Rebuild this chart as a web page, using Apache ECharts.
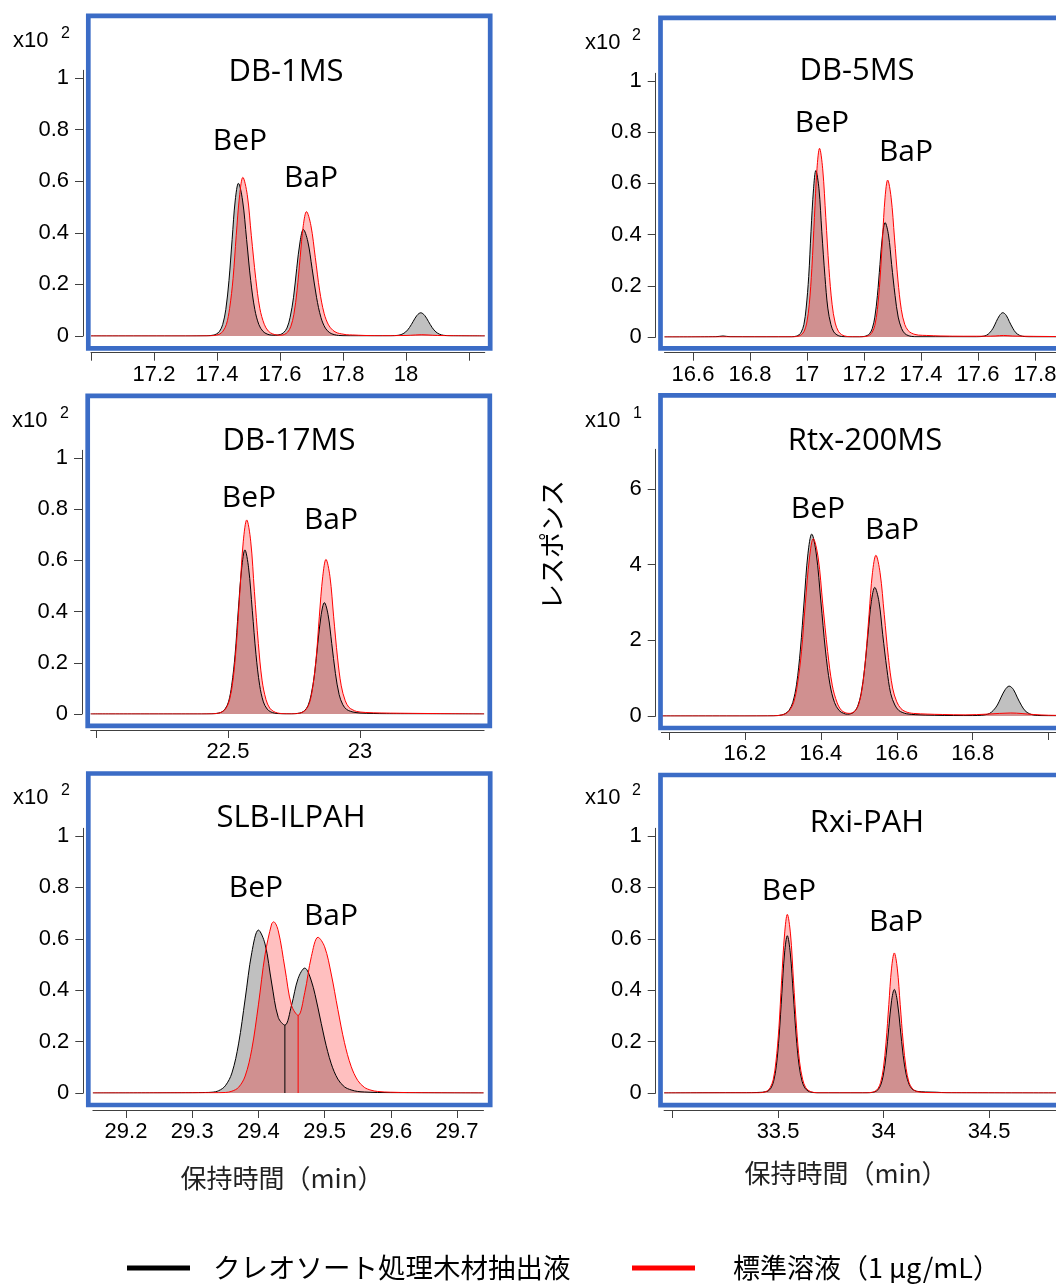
<!DOCTYPE html>
<html><head><meta charset="utf-8">
<script src="https://cdn.jsdelivr.net/npm/echarts@6/dist/echarts.min.js"></script>
<style>html,body{margin:0;padding:0;background:#fff}#c{width:1056px;height:1287px}</style>
</head><body><div id="c"></div>
<script>
// ---------- data (retention time [min], response) ----------
const p1Black = [[17.00,0],[17.30,0],[17.368,0.0005],[17.378,0.0014],[17.388,0.0033],[17.398,0.0076],[17.408,0.018],[17.418,0.044],[17.428,0.103],[17.438,0.215],[17.448,0.374],[17.458,0.527],[17.468,0.592],[17.481,0.527],[17.494,0.374],[17.507,0.215],[17.520,0.103],[17.533,0.044],[17.546,0.018],[17.559,0.0076],[17.572,0.0036],[17.585,0.003],[17.601,0.0058],[17.611,0.0126],[17.622,0.0306],[17.632,0.0719],[17.643,0.150],[17.653,0.261],[17.664,0.368],[17.674,0.413],[17.688,0.368],[17.702,0.261],[17.716,0.150],[17.730,0.0719],[17.744,0.0306],[17.758,0.0126],[17.772,0.0053],[17.786,0.0023],[17.800,0.001],[17.85,0.0005],[17.951,0.0005],[17.963,0.0012],[17.975,0.0027],[17.987,0.0067],[17.999,0.0157],[18.011,0.0327],[18.023,0.0569],[18.035,0.0802],[18.047,0.090],[18.059,0.0802],[18.071,0.0569],[18.083,0.0327],[18.095,0.0157],[18.107,0.0067],[18.119,0.0027],[18.131,0.0012],[18.143,0.0005],[18.25,0]];
const p1Red = [[17.00,0],[17.30,0],[17.377,0.0005],[17.388,0.0014],[17.398,0.0034],[17.409,0.0079],[17.419,0.0188],[17.430,0.0455],[17.440,0.107],[17.451,0.223],[17.461,0.389],[17.472,0.548],[17.482,0.615],[17.496,0.548],[17.509,0.389],[17.523,0.223],[17.536,0.107],[17.550,0.0455],[17.563,0.0188],[17.577,0.0079],[17.590,0.0042],[17.604,0.0032],[17.614,0.0062],[17.624,0.0147],[17.634,0.0357],[17.644,0.0839],[17.654,0.175],[17.664,0.305],[17.674,0.429],[17.684,0.482],[17.698,0.429],[17.712,0.305],[17.726,0.175],[17.740,0.088],[17.754,0.043],[17.768,0.022],[17.782,0.012],[17.796,0.008],[17.810,0.005],[17.83,0.004],[17.87,0.002],[17.92,0.001],[18.00,0.002],[18.03,0.004],[18.05,0.005],[18.07,0.004],[18.10,0.002],[18.15,0.001],[18.25,0]];

const p2Black = [[16.50,0],[16.68,0.001],[16.705,0.004],[16.73,0.001],[16.90,0.0005],[16.946,0.0005],[16.955,0.0015],[16.963,0.0036],[16.972,0.0084],[16.980,0.0198],[16.989,0.0481],[16.997,0.113],[17.006,0.236],[17.014,0.411],[17.023,0.579],[17.031,0.650],[17.042,0.579],[17.052,0.411],[17.063,0.236],[17.073,0.113],[17.084,0.0481],[17.094,0.0198],[17.105,0.0084],[17.115,0.0036],[17.126,0.0015],[17.136,0.0005],[17.184,0.0004],[17.193,0.0010],[17.202,0.0025],[17.211,0.0058],[17.220,0.0136],[17.229,0.0331],[17.238,0.0778],[17.247,0.162],[17.256,0.283],[17.265,0.398],[17.274,0.447],[17.286,0.398],[17.297,0.283],[17.309,0.162],[17.320,0.0778],[17.332,0.0331],[17.343,0.0136],[17.355,0.0058],[17.366,0.0025],[17.378,0.0010],[17.40,0.0008],[17.50,0.0008],[17.595,0.0005],[17.607,0.0012],[17.618,0.0029],[17.630,0.007],[17.641,0.0165],[17.653,0.0345],[17.664,0.060],[17.676,0.0846],[17.687,0.095],[17.699,0.0846],[17.710,0.060],[17.722,0.0345],[17.733,0.0165],[17.745,0.007],[17.756,0.0029],[17.768,0.0012],[17.779,0.0005],[18.00,0]];
const p2Red = [[16.50,0],[16.90,0.0005],[16.954,0.0006],[16.963,0.0017],[16.972,0.0041],[16.981,0.0095],[16.990,0.0225],[16.999,0.0545],[17.008,0.128],[17.017,0.268],[17.026,0.466],[17.035,0.657],[17.044,0.737],[17.055,0.657],[17.066,0.466],[17.077,0.268],[17.088,0.128],[17.099,0.0545],[17.110,0.0225],[17.121,0.0095],[17.132,0.0041],[17.143,0.0017],[17.154,0.0006],[17.193,0.0005],[17.202,0.0014],[17.211,0.0034],[17.220,0.0079],[17.229,0.0187],[17.238,0.0454],[17.247,0.107],[17.256,0.223],[17.265,0.387],[17.274,0.546],[17.283,0.613],[17.295,0.546],[17.307,0.387],[17.319,0.223],[17.331,0.107],[17.343,0.049],[17.355,0.025],[17.367,0.015],[17.379,0.010],[17.391,0.0074],[17.42,0.006],[17.47,0.004],[17.55,0.003],[17.63,0.003],[17.66,0.004],[17.69,0.006],[17.72,0.004],[17.76,0.003],[17.85,0.002],[18.00,0.001]];

const p3Black = [[21.98,0],[22.40,0],[22.439,0.0005],[22.452,0.0015],[22.464,0.0036],[22.477,0.0083],[22.489,0.0196],[22.502,0.0474],[22.514,0.112],[22.527,0.233],[22.539,0.405],[22.552,0.571],[22.564,0.641],[22.578,0.571],[22.592,0.405],[22.606,0.233],[22.620,0.112],[22.634,0.0474],[22.648,0.0196],[22.662,0.0083],[22.676,0.0036],[22.690,0.0015],[22.704,0.0005],[22.740,0.0003],[22.753,0.0010],[22.765,0.0024],[22.778,0.0056],[22.790,0.0133],[22.803,0.0322],[22.815,0.0757],[22.828,0.158],[22.840,0.275],[22.853,0.388],[22.865,0.435],[22.879,0.388],[22.893,0.275],[22.907,0.158],[22.921,0.0757],[22.935,0.036],[22.949,0.018],[22.963,0.011],[22.977,0.007],[23.00,0.004],[23.05,0.002],[23.10,0.001],[23.47,0]];
const p3Red = [[21.98,0],[22.40,0],[22.441,0.0006],[22.454,0.0017],[22.467,0.0042],[22.480,0.0098],[22.493,0.0231],[22.506,0.0561],[22.519,0.132],[22.532,0.275],[22.545,0.479],[22.558,0.675],[22.571,0.758],[22.586,0.675],[22.600,0.479],[22.615,0.275],[22.629,0.132],[22.644,0.0561],[22.658,0.0231],[22.673,0.0098],[22.687,0.0042],[22.702,0.0017],[22.716,0.0006],[22.746,0.0005],[22.759,0.0014],[22.771,0.0034],[22.784,0.0078],[22.796,0.0184],[22.809,0.0447],[22.821,0.105],[22.834,0.219],[22.846,0.382],[22.859,0.538],[22.871,0.604],[22.886,0.538],[22.900,0.382],[22.915,0.219],[22.929,0.110],[22.944,0.052],[22.958,0.026],[22.973,0.016],[22.987,0.010],[23.02,0.006],[23.08,0.004],[23.15,0.003],[23.25,0.002],[23.35,0.001],[23.47,0]];

const p4Black = [[15.98,0],[16.20,0],[16.26,0.002],[16.276,0.004],[16.286,0.011],[16.296,0.027],[16.306,0.062],[16.316,0.147],[16.326,0.356],[16.336,0.837],[16.346,1.746],[16.356,3.040],[16.366,4.286],[16.376,4.81],[16.388,4.286],[16.400,3.040],[16.412,1.746],[16.424,0.837],[16.436,0.356],[16.448,0.147],[16.460,0.069],[16.470,0.048],[16.479,0.061],[16.488,0.112],[16.497,0.256],[16.506,0.592],[16.515,1.234],[16.524,2.149],[16.533,3.029],[16.542,3.40],[16.553,3.029],[16.563,2.149],[16.574,1.234],[16.584,0.592],[16.595,0.29],[16.605,0.149],[16.616,0.089],[16.626,0.059],[16.65,0.035],[16.70,0.02],[16.75,0.012],[16.80,0.011],[16.812,0.014],[16.823,0.020],[16.833,0.033],[16.844,0.066],[16.854,0.144],[16.865,0.290],[16.875,0.500],[16.886,0.704],[16.896,0.79],[16.907,0.704],[16.917,0.499],[16.928,0.287],[16.938,0.138],[16.949,0.062],[16.959,0.030],[16.970,0.016],[16.98,0.010],[17.02,0.005],[17.10,0.003]];
const p4Red = [[15.98,0],[16.20,0],[16.26,0.002],[16.275,0.004],[16.286,0.011],[16.296,0.026],[16.307,0.061],[16.317,0.143],[16.328,0.347],[16.338,0.816],[16.349,1.702],[16.359,2.964],[16.370,4.179],[16.380,4.69],[16.393,4.179],[16.405,2.964],[16.418,1.702],[16.430,0.816],[16.443,0.347],[16.455,0.143],[16.468,0.077],[16.475,0.070],[16.482,0.08],[16.491,0.142],[16.500,0.32],[16.509,0.740],[16.518,1.543],[16.527,2.686],[16.536,3.787],[16.545,4.25],[16.556,3.787],[16.567,2.686],[16.578,1.543],[16.589,0.740],[16.600,0.375],[16.611,0.195],[16.622,0.12],[16.633,0.084],[16.644,0.068],[16.68,0.05],[16.72,0.04],[16.78,0.03],[16.84,0.05],[16.90,0.08],[16.96,0.04],[17.00,0.02],[17.10,0.01]];

const p5Black = [[29.15,0],[29.30,0.001],[29.32,0.002],[29.33,0.003],[29.34,0.009],[29.35,0.028],[29.36,0.078],[29.37,0.191],[29.38,0.366],[29.39,0.546],[29.40,0.634],[29.41,0.580],[29.42,0.428],[29.43,0.294],[29.44,0.264],[29.45,0.341],[29.46,0.446],[29.47,0.486],[29.48,0.436],[29.49,0.331],[29.50,0.210],[29.51,0.114],[29.52,0.054],[29.53,0.024],[29.54,0.012],[29.55,0.006],[29.56,0.004],[29.58,0.002],[29.62,0.001],[29.74,0]];
const p5Red = [[29.15,0],[29.33,0.001],[29.35,0.002],[29.36,0.007],[29.37,0.022],[29.38,0.066],[29.39,0.170],[29.40,0.343],[29.41,0.538],[29.42,0.658],[29.423,0.666],[29.43,0.631],[29.44,0.486],[29.45,0.341],[29.46,0.302],[29.47,0.391],[29.48,0.531],[29.49,0.606],[29.50,0.569],[29.51,0.463],[29.52,0.325],[29.53,0.196],[29.54,0.104],[29.55,0.049],[29.56,0.022],[29.57,0.011],[29.58,0.006],[29.60,0.003],[29.65,0.001],[29.74,0]];
const p5BlackDrop = [[29.44,0],[29.44,0.264]];
const p5RedDrop = [[29.46,0],[29.46,0.302]];

const p6Black = [[32.96,0],[33.30,0.001],[33.35,0.001],[33.40,0.002],[33.427,0.003],[33.440,0.005],[33.453,0.0079],[33.466,0.0187],[33.479,0.0453],[33.492,0.106],[33.505,0.222],[33.518,0.387],[33.531,0.545],[33.544,0.612],[33.558,0.545],[33.572,0.387],[33.586,0.222],[33.600,0.106],[33.614,0.0453],[33.628,0.0187],[33.642,0.0079],[33.656,0.0034],[33.670,0.0014],[33.684,0.0005],[33.90,0.0005],[33.934,0.0009],[33.947,0.0023],[33.960,0.0052],[33.973,0.0123],[33.986,0.0298],[33.999,0.0701],[34.012,0.146],[34.025,0.255],[34.038,0.359],[34.051,0.403],[34.065,0.359],[34.079,0.255],[34.093,0.146],[34.107,0.073],[34.121,0.034],[34.135,0.016],[34.149,0.009],[34.163,0.006],[34.20,0.004],[34.25,0.003],[34.30,0.001],[34.95,0]];
const p6Red = [[32.96,0],[33.30,0.0005],[33.409,0.0006],[33.423,0.0016],[33.436,0.0039],[33.450,0.009],[33.463,0.0212],[33.477,0.0514],[33.490,0.121],[33.504,0.252],[33.517,0.439],[33.531,0.619],[33.544,0.695],[33.559,0.619],[33.573,0.439],[33.588,0.252],[33.602,0.121],[33.617,0.0514],[33.631,0.0212],[33.646,0.009],[33.660,0.0039],[33.675,0.0016],[33.689,0.0006],[33.90,0.0005],[33.921,0.0004],[33.934,0.0013],[33.947,0.0031],[33.960,0.007],[33.973,0.0166],[33.986,0.0403],[33.999,0.0948],[34.012,0.198],[34.025,0.344],[34.038,0.486],[34.051,0.545],[34.065,0.486],[34.079,0.344],[34.093,0.198],[34.107,0.0948],[34.121,0.0403],[34.135,0.019],[34.149,0.009],[34.163,0.005],[34.20,0.002],[34.30,0.001],[34.95,0]];

// ---------- tick values / labels ----------
const yTicks01 = [0, 0.2, 0.4, 0.6, 0.8, 1];
const p4YTicks = [0, 2, 4, 6];
const p1XTicks = [17, 17.2, 17.4, 17.6, 17.8, 18, 18.2];
const p1XLabels = [17.2, 17.4, 17.6, 17.8, 18];
const p2XTicks = [16.6, 16.8, 17, 17.2, 17.4, 17.6, 17.8];
const p2XLabels = [16.6, 16.8, 17, 17.2, 17.4, 17.6, 17.8];
const p3XTicks = [22, 22.5, 23];
const p3XLabels = [22.5, 23];
const p4XTicks = [16, 16.2, 16.4, 16.6, 16.8, 17];
const p4XLabels = [16.2, 16.4, 16.6, 16.8];
const p5XTicks = [29.2, 29.3, 29.4, 29.5, 29.6, 29.7];
const p5XLabels = [29.2, 29.3, 29.4, 29.5, 29.6, 29.7];
const p6XTicks = [33, 33.5, 34, 34.5];
const p6XLabels = [33.5, 34, 34.5];

const columnNames = ['DB-1MS', 'DB-5MS', 'DB-17MS', 'Rtx-200MS', 'SLB-ILPAH', 'Rxi-PAH'];
const peakNames = ['BeP', 'BaP'];
const seriesNames = ['クレオソート処理木材抽出液', '標準溶液（1 μg/mL）'];
const axisXName = '保持時間（min）';
const axisYName = 'レスポンス';

// ---------- layout ----------
const TICK_FONT = '"Liberation Sans", Arial, sans-serif';
const TITLE_FONT = '"Open Sans", sans-serif';
const JP_FONT = '"Noto Sans CJK JP", sans-serif';
const BLUE = '#3b6cc6';
const AXIS = '#404040';

const panels = [
  {black: p1Black, red: p1Red, grid: {left: 91, top: 70.3, width: 393.75, height: 265.7}, xMin: 17.0, xMax: 18.25, yMax: 1.03, xTicks: p1XTicks, xLabels: p1XLabels, yTicks: yTicks01, yOff: 8, xOff: 16.7,
   box: [88.3, 15.8, 401.9, 332.5], exp: '2', expPos: [13, 41, 61, 34], title: [286, 72], bep: [240, 141], bap: [311, 178]},
  {black: p2Black, red: p2Red, grid: {left: 664.5, top: 73.3, width: 427.5, height: 263.7}, xMin: 16.5, xMax: 18.0, yMax: 1.03, xTicks: p2XTicks, xLabels: p2XLabels, yTicks: yTicks01, yOff: 8.8, xOff: 15.7,
   box: [660.5, 17.8, 500, 330.5], exp: '2', expPos: [585, 43, 632, 36], title: [857, 71], bep: [822, 123], bap: [906, 152]},
  {black: p3Black, red: p3Red, grid: {left: 90.7, top: 450.3, width: 393.4, height: 263.7}, xMin: 21.98, xMax: 23.47, yMax: 1.03, xTicks: p3XTicks, xLabels: p3XLabels, yTicks: yTicks01, yOff: 8.7, xOff: 16,
   box: [87.7, 395.8, 402.1, 330], exp: '2', expPos: [12, 421, 60, 414], title: [289, 441], bep: [249, 498], bap: [331, 520]},
  {black: p4Black, red: p4Red, grid: {left: 661.4, top: 449.3, width: 425.2, height: 266.7}, xMin: 15.98, xMax: 17.1, yMax: 7.05, xTicks: p4XTicks, xLabels: p4XLabels, yTicks: p4YTicks, yOff: 5.7, xOff: 16,
   box: [660.5, 395.3, 500, 332.7], exp: '1', expPos: [585, 421, 633, 414], title: [865, 441], bep: [818, 509], bap: [892, 530]},
  {black: p5Black, red: p5Red, grid: {left: 92.9, top: 828.3, width: 390.6, height: 264.7}, xMin: 29.15, xMax: 29.74, yMax: 1.03, xTicks: p5XTicks, xLabels: p5XLabels, yTicks: yTicks01, yOff: 9.6, xOff: 17,
   box: [88.3, 773.5, 401.9, 331.5], exp: '2', expPos: [13, 798, 61, 791], title: [291, 818], bep: [256, 888], bap: [331, 916], drops: true},
  {black: p6Black, red: p6Red, grid: {left: 664.1, top: 828.3, width: 419.9, height: 264.7}, xMin: 32.96, xMax: 34.95, yMax: 1.03, xTicks: p6XTicks, xLabels: p6XLabels, yTicks: yTicks01, yOff: 8.4, xOff: 17,
   box: [660.5, 775, 500, 330.2], exp: '2', expPos: [585, 798, 632, 791], title: [867, 823], bep: [789, 891], bap: [896, 922]}
];

const grids = [], xAxes = [], yAxes = [], series = [], graphics = [];

function txt(text, x, y, size, family, align, extra, fill) {
  return Object.assign({
    type: 'text', x: x, y: y, silent: true, z: 100,
    style: {text: text, fontSize: size, fontFamily: family, fill: fill || '#000',
      align: align || 'center', verticalAlign: 'middle', textAlign: align || 'center', textVerticalAlign: 'middle'}
  }, extra || {});
}

panels.forEach(function (p, i) {
  grids.push(Object.assign({outerBoundsMode: 'none', containLabel: false}, p.grid));
  xAxes.push({
    type: 'value', gridIndex: i, min: p.xMin, max: p.xMax, offset: p.xOff, position: 'bottom',
    axisLine: {show: true, onZero: false, lineStyle: {color: AXIS, width: 1}},
    axisTick: {show: true, inside: false, length: 8, customValues: p.xTicks, lineStyle: {color: AXIS, width: 1}},
    axisLabel: {show: true, customValues: p.xLabels, fontSize: 22, fontFamily: TICK_FONT, color: '#000', margin: 11},
    splitLine: {show: false}
  });
  yAxes.push({
    type: 'value', gridIndex: i, min: 0, max: p.yMax, offset: p.yOff, position: 'left',
    axisLine: {show: true, onZero: false, lineStyle: {color: AXIS, width: 1}},
    axisTick: {show: true, inside: false, length: 8, customValues: p.yTicks, lineStyle: {color: AXIS, width: 1}},
    axisLabel: {show: true, customValues: p.yTicks, fontSize: 22, fontFamily: TICK_FONT, color: '#000', margin: 14},
    splitLine: {show: false}
  });
  const common = {type: 'line', xAxisIndex: i, yAxisIndex: i, symbol: 'none', showSymbol: false, smooth: 0.35, silent: true, animation: false};
  series.push(Object.assign({}, common, {name: seriesNames[0], data: p.black, z: 2,
    lineStyle: {width: 0, opacity: 0}, areaStyle: {color: '#c0c0c0', opacity: 1}}));
  series.push(Object.assign({}, common, {name: seriesNames[1], data: p.red, z: 3,
    lineStyle: {width: 0, opacity: 0}, areaStyle: {color: 'rgba(255,0,0,0.25)', opacity: 1}}));
  series.push(Object.assign({}, common, {name: seriesNames[0], data: p.black, z: 4,
    lineStyle: {width: 1, color: '#000'}}));
  series.push(Object.assign({}, common, {name: seriesNames[1], data: p.red, z: 5,
    lineStyle: {width: 1, color: '#ff0000'}}));
  if (p.drops) {
    series.push(Object.assign({}, common, {smooth: false, name: seriesNames[0], data: p5BlackDrop, z: 4, lineStyle: {width: 1, color: '#000'}}));
    series.push(Object.assign({}, common, {smooth: false, name: seriesNames[1], data: p5RedDrop, z: 5, lineStyle: {width: 1, color: '#ff0000'}}));
  }
  graphics.push({type: 'rect', silent: true, z: 50,
    shape: {x: p.box[0], y: p.box[1], width: p.box[2], height: p.box[3]},
    style: {fill: 'none', stroke: BLUE, lineWidth: 4.7}});
  graphics.push(txt('x10', p.expPos[0], p.expPos[1], 22, TICK_FONT, 'left'));
  graphics.push(txt(p.exp, p.expPos[2], p.expPos[3], 16, TICK_FONT, 'left'));
  graphics.push(txt(columnNames[i], p.title[0], p.title[1], 31, TITLE_FONT));
  graphics.push(txt(peakNames[0], p.bep[0], p.bep[1], 30, TITLE_FONT));
  graphics.push(txt(peakNames[1], p.bap[0], p.bap[1], 30, TITLE_FONT));
});

graphics.push(txt(axisXName, 282, 1178, 26, JP_FONT, 'center', null, '#222'));
graphics.push(txt(axisXName, 846, 1173, 26, JP_FONT, 'center', null, '#222'));
graphics.push(txt(axisYName, 552.5, 545, 26, JP_FONT, 'center', {rotation: Math.PI / 2}));

graphics.push({type: 'rect', silent: true, z: 100, shape: {x: 127, y: 1265.5, width: 63, height: 5}, style: {fill: '#000'}});
graphics.push(txt(seriesNames[0], 213, 1268, 27.5, JP_FONT, 'left'));
graphics.push({type: 'rect', silent: true, z: 100, shape: {x: 632, y: 1265.5, width: 63, height: 5}, style: {fill: '#ff0000'}});
graphics.push(txt(seriesNames[1], 733, 1268, 27, JP_FONT, 'left'));

const chart = echarts.init(document.getElementById('c'), null, {renderer: 'canvas', width: 1056, height: 1287});
chart.setOption({
  animation: false,
  backgroundColor: '#fff',
  grid: grids,
  xAxis: xAxes,
  yAxis: yAxes,
  series: series,
  graphic: {elements: graphics}
});
</script>
</body></html>
